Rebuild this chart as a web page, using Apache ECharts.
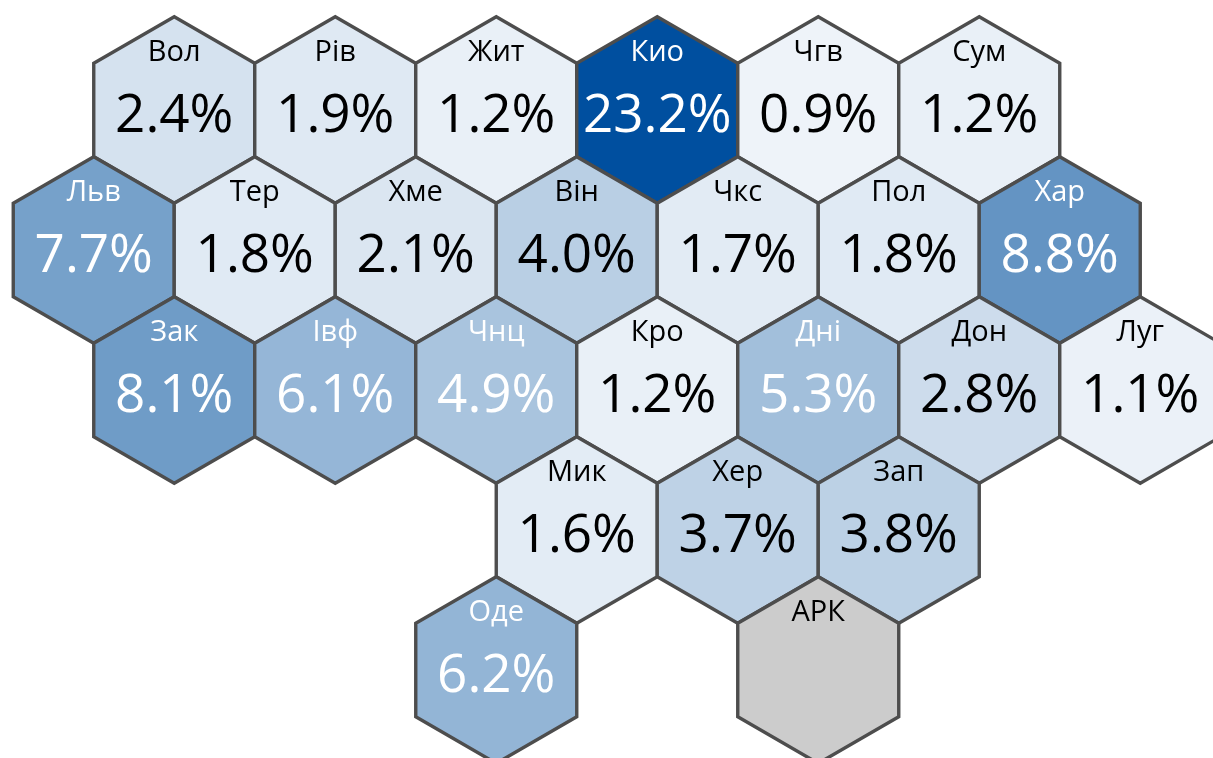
<!DOCTYPE html>
<html>
<head>
<meta charset="utf-8">
<style>html,body{margin:0;padding:0;background:#fff}#c{width:1213px;height:758px}</style>
<script src="https://cdn.jsdelivr.net/npm/echarts@6/dist/echarts.min.js"></script>
</head>
<body>
<div id="c"></div>
<script>
const names  = ['Вол','Рів','Жит','Кио','Чгв','Сум','Льв','Тер','Хме','Він','Чкс','Пол','Хар','Зак','Івф','Чнц','Кро','Дні','Дон','Луг','Мик','Хер','Зап','Оде','АРК'];
const values = [2.4,1.9,1.2,23.2,0.9,1.2,7.7,1.8,2.1,4.0,1.7,1.8,8.8,8.1,6.1,4.9,1.2,5.3,2.8,1.1,1.6,3.7,3.8,6.2,null];
const cols   = [2,4,6,8,10,12,1,3,5,7,9,11,13,2,4,6,8,10,12,14,7,9,11,6,10];
const rows   = [0,0,0,0,0,0,1,1,1,1,1,1,1,2,2,2,2,2,2,2,3,3,3,4,4];

const stopValues = [0.9,1.2,1.9,2.4,2.8,4.0,5.3,6.2,7.7,8.8,23.2];
const stopColors = ['#eef3f9','#e9f0f7','#dfe9f3','#d5e2ef','#cddcec','#b9cfe4','#a2bfdb','#93b5d6','#76a1ca','#6494c3','#004f9f'];
function fillFor(v) {
  if (v == null) return '#cccccc';
  for (let i = 1; i < stopValues.length; i++) {
    if (v <= stopValues[i]) {
      const t = (v - stopValues[i - 1]) / (stopValues[i] - stopValues[i - 1]);
      return echarts.color.lerp(t, [stopColors[i - 1], stopColors[i]]);
    }
  }
  return stopColors[stopColors.length - 1];
}
const FONT = '"Open Sans","Noto Sans",sans-serif';

function renderItem(params, api) {
  const i = params.dataIndex;
  const c = api.coord([api.value(0), api.value(1)]);
  const s = api.size([1, 1]);
  const w = s[0], r = s[1] * 2 / 3;
  const v = values[i];
  const txt = v != null && v >= 4.5 ? '#ffffff' : '#000000';
  const children = [{
    type: 'polygon',
    shape: { points: [[c[0], c[1] - r], [c[0] + w, c[1] - r / 2], [c[0] + w, c[1] + r / 2], [c[0], c[1] + r], [c[0] - w, c[1] + r / 2], [c[0] - w, c[1] - r / 2]] },
    style: { fill: fillFor(v), stroke: '#4d4d4d', lineWidth: 3.4, lineJoin: 'miter' }
  }, {
    type: 'text',
    style: { x: c[0], y: c[1] - 57, text: names[i], fill: txt, font: '29px ' + FONT, textAlign: 'center', textVerticalAlign: 'middle' }
  }];
  if (v != null) {
    children.push({
      type: 'text',
      style: { x: c[0], y: c[1] + 7, text: v.toFixed(1) + '%', fill: txt, font: '53px ' + FONT, textAlign: 'center', textVerticalAlign: 'middle' }
    });
  }
  return { type: 'group', children };
}

const chart = echarts.init(document.getElementById('c'), null, { renderer: 'canvas' });
chart.setOption({
  animation: false,
  backgroundColor: '#ffffff',
  grid: { left: 13.25, top: 110, width: 1127, height: 560, containLabel: false },
  xAxis: { type: 'value', min: 0, max: 14, show: false },
  yAxis: { type: 'value', min: 0, max: 4, inverse: true, show: false },
  series: [{
    type: 'custom',
    coordinateSystem: 'cartesian2d',
    clip: false,
    silent: true,
    renderItem,
    encode: { x: 0, y: 1 },
    data: cols.map((col, i) => [col, rows[i]])
  }]
});
</script>
</body>
</html>
